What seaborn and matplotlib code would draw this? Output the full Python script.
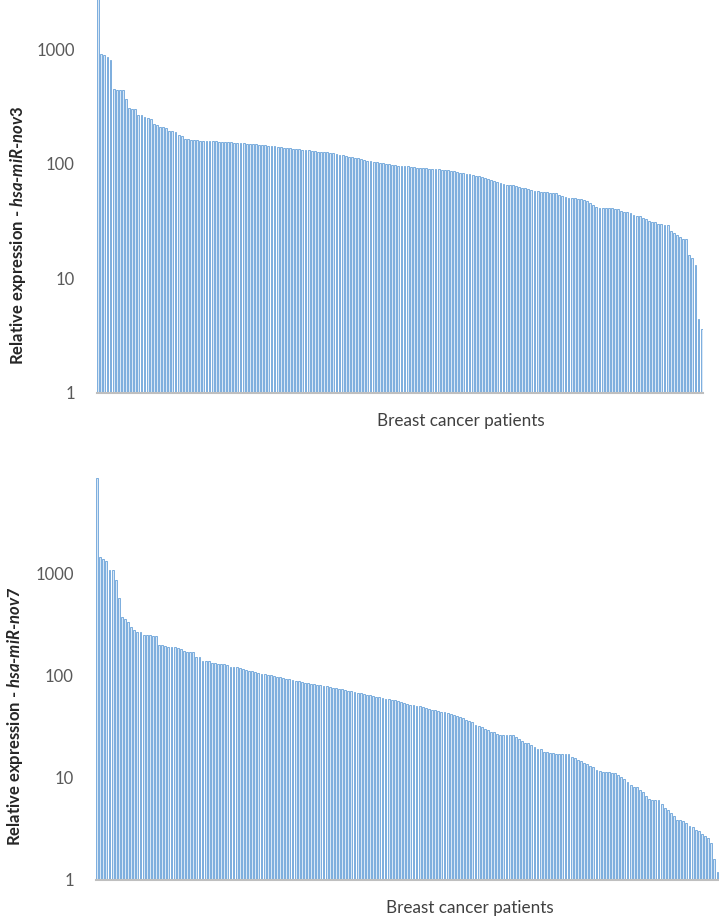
import numpy as np
import pandas as pd
import matplotlib
matplotlib.use("Agg")
import matplotlib.pyplot as plt
import seaborn as sns

# relative expression per patient, sorted high -> low
nov3_expr = [
    5000,
    920, 900, 850, 815,
    455, 440, 440, 440, 370,
    310, 300, 300, 270, 265,
    255, 250, 245, 225, 220,
    210, 210, 205, 195, 195,
    190, 180, 175, 166, 165,
    163, 162, 162, 160, 160,
    160, 158, 158, 157, 156,
    156, 155, 155, 154, 153,
    152, 152, 151, 150, 150,
    149, 148, 147, 146, 145,
    144, 143, 142, 141, 140,
    139, 138, 137, 136, 135,
    134, 133, 132, 131, 130,
    129, 128, 127, 126, 126,
    125, 124, 122, 120, 119,
    118, 116, 115, 113, 112,
    110, 109, 107, 106, 104,
    103, 102, 101, 100, 99,
    98, 97, 96, 96, 95,
    95, 94, 94, 93, 93,
    92, 92, 91, 91, 90,
    90, 89, 88, 88, 87,
    86, 85, 84, 83, 82,
    81, 80, 79, 78, 77,
    75, 74, 72, 71, 70,
    68, 67, 66, 66, 65,
    64, 63, 62, 61, 60,
    59, 58, 58, 57, 57,
    57, 56, 56, 56, 53,
    52, 51, 50, 50, 50,
    49, 49, 48, 47, 46,
    44, 42, 41, 41, 41,
    41, 41, 40, 40, 39,
    38, 38, 37, 36, 35,
    35, 34, 33, 32, 31,
    31, 30, 30, 29, 29,
    26, 25, 24, 23, 22,
    22, 16, 15, 13, 4.4, 3.6,
]

nov7_expr = [
    8500,
    1435, 1370, 1310, 1070,
    1070, 855, 570, 370, 360,
    330, 295, 280, 265, 265,
    250, 248, 247, 245, 243,
    200, 198, 196, 190, 188,
    188, 186, 180, 175, 170,
    168, 168, 150, 150, 140,
    140, 138, 131, 131, 130,
    130, 129, 128, 121, 120,
    120, 119, 115, 113, 111,
    110, 108, 106, 104, 103,
    101, 100, 98, 97, 96,
    94, 93, 92, 90, 89,
    88, 87, 85, 84, 83,
    82, 81, 80, 79, 78,
    77, 76, 75, 74, 73,
    72, 71, 70, 69, 68,
    67, 66, 65, 64, 63,
    62, 61, 60, 59, 59,
    58, 57, 56, 55, 54,
    53, 52, 51, 50, 50,
    49, 48, 47, 46, 46,
    45, 44, 44, 43, 42,
    41, 40, 39, 38, 37,
    36, 35, 33, 32, 31,
    30, 29, 28, 28, 27,
    26, 26, 26, 26, 26,
    25, 24, 23, 22, 22,
    21, 20, 19, 19, 18,
    18, 17.5, 17.5, 17, 17,
    17, 17, 17, 16, 15.5,
    15, 14.5, 14, 13.5, 13,
    12.6, 12, 11.6, 11.5, 11.4,
    11.4, 11.2, 11, 10.7, 10.2,
    9.8, 9, 8.4, 8.2, 8.1,
    7.6, 7.2, 6.7, 6.2, 6.1,
    6, 6, 5.5, 5.1, 4.8,
    4.5, 4.2, 3.9, 3.9, 3.8,
    3.6, 3.4, 3.3, 3.1, 3.0,
    2.8, 2.7, 2.6, 2.3, 1.6,
    1.2,
]

ytick_vals = [1, 10, 100, 1000]
ytick_labels = ["1", "10", "100", "1000"]
panel_labels = ["nov3", "nov7"]
xlabel_text = "Breast cancer patients"

sns.set_style("white")
plt.rcParams["font.family"] = ["Lato", "DejaVu Sans"]
plt.rcParams["mathtext.fontset"] = "custom"
plt.rcParams["mathtext.it"] = "Lato:bold:italic"
plt.rcParams["mathtext.rm"] = "Lato:bold"

fig = plt.figure(figsize=(7.19, 9.18), dpi=100)
ax_top = fig.add_axes([0.135, 0.572, 0.843, 0.428])
ax_bot = fig.add_axes([0.1335, 0.0414, 0.8665, 0.4456])

face = "#d8e7f6"
edge = "#6aa3d9"

for ax, vals, name, ytop, xl_y in [(ax_top, nov3_expr, panel_labels[0], 2700, -0.05),
                                    (ax_bot, nov7_expr, panel_labels[1], 10000, -0.05)]:
    df = pd.DataFrame({"patient": np.arange(len(vals)), "expr": vals})
    sns.barplot(data=df, x="patient", y="expr", ax=ax, color=face, edgecolor=edge,
                linewidth=0.6, width=0.6, saturation=1)
    ax.set_yscale("log", nonpositive="clip")
    ax.set_ylim(1, ytop)
    ax.set_xlim(-0.35, len(vals) - 0.5)
    ax.set_yticks(ytick_vals)
    ax.set_yticklabels(ytick_labels)
    ax.yaxis.set_minor_locator(matplotlib.ticker.NullLocator())
    ax.set_xticks([])
    ax.tick_params(axis="y", length=0, pad=16, labelsize=12, labelcolor="#595959")
    for s in ["top", "right", "left"]:
        ax.spines[s].set_visible(False)
    ax.spines["bottom"].set_color("#bfbfbf")
    ax.spines["bottom"].set_linewidth(1.5)
    ax.set_xlabel(xlabel_text, fontsize=12.3, color="#404040")
    ax.xaxis.set_label_coords(0.6, xl_y)
    ax.set_ylabel(r"Relative expression - $\mathit{hsa}$-$\mathit{miR}$-$\mathit{" + name + "}$",
                  fontsize=12, fontweight="bold", color="#262626")
    ax.yaxis.set_label_coords(-0.114, 0.40)

fig.savefig("out.png", dpi=100)
